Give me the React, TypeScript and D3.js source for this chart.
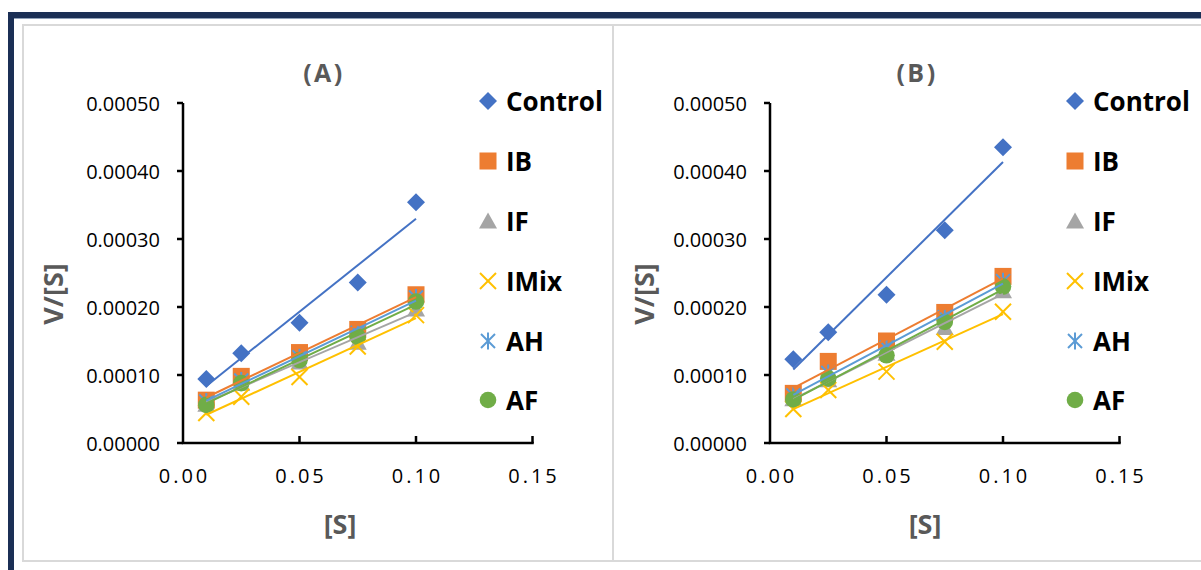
import React from "react";
import * as d3 from "d3";

const xValues = [0.01, 0.025, 0.05, 0.075, 0.1];
const seriesNames = ["Control", "IB", "IF", "IMix", "AH", "AF"];
const seriesColors = ["#4472C4", "#ED7D31", "#A5A5A5", "#FFC000", "#5B9BD5", "#70AD47"];
const seriesShapes = ["diamond", "square", "triangle", "x", "star", "circle"];

const panelA_Control = [0.000094, 0.000132, 0.000177, 0.000236, 0.000354];
const panelA_IB = [0.000063, 0.000098, 0.000133, 0.000167, 0.000218];
const panelA_IF = [0.000057, 0.000088, 0.000119, 0.000148, 0.000197];
const panelA_IMix = [0.000044, 0.000068, 0.000097, 0.000142, 0.000188];
const panelA_AH = [0.000061, 0.000092, 0.000126, 0.000162, 0.000214];
const panelA_AF = [0.000056, 0.000088, 0.000122, 0.000156, 0.000208];

const panelB_Control = [0.000123, 0.000163, 0.000218, 0.000313, 0.000435];
const panelB_IB = [0.000073, 0.00012, 0.00015, 0.000192, 0.000245];
const panelB_IF = [0.000065, 0.000093, 0.000132, 0.00017, 0.000224];
const panelB_IMix = [0.00005, 0.000078, 0.000105, 0.000149, 0.000193];
const panelB_AH = [0.00007, 0.000103, 0.00014, 0.000185, 0.000238];
const panelB_AF = [0.000064, 0.000095, 0.000129, 0.000178, 0.00023];

const xTicks = [0, 0.05, 0.1, 0.15];
const yTicks = [0, 0.0001, 0.0002, 0.0003, 0.0004, 0.0005];
const panelTitles = ["(A)", "(B)"];

const panels = [
  {
    title: panelTitles[0],
    data: [panelA_Control, panelA_IB, panelA_IF, panelA_IMix, panelA_AH, panelA_AF],
    x0: 183,
    titleX: 324,
    yLabelX: 52,
    xLabelX: 340,
    legendX: 488,
  },
  {
    title: panelTitles[1],
    data: [panelB_Control, panelB_IB, panelB_IF, panelB_IMix, panelB_AH, panelB_AF],
    x0: 770,
    titleX: 917,
    yLabelX: 643,
    xLabelX: 925,
    legendX: 1075,
  },
];

function Marker({ shape, color, x, y }: { shape: string; color: string; x: number; y: number }) {
  const s = 8.5;
  if (shape === "diamond") {
    return <path d={`M${x},${y - s - 0.5}L${x + s + 0.5},${y}L${x},${y + s + 0.5}L${x - s - 0.5},${y}Z`} fill={color} />;
  }
  if (shape === "square") {
    return <rect x={x - s} y={y - s} width={2 * s} height={2 * s} fill={color} />;
  }
  if (shape === "triangle") {
    return <path d={`M${x},${y - s}L${x + s + 0.5},${y + s - 1}L${x - s - 0.5},${y + s - 1}Z`} fill={color} />;
  }
  if (shape === "x") {
    const h = 8;
    return (
      <g stroke={color} strokeWidth={2}>
        <line x1={x - h} y1={y - h} x2={x + h} y2={y + h} />
        <line x1={x - h} y1={y + h} x2={x + h} y2={y - h} />
      </g>
    );
  }
  if (shape === "star") {
    const h = 7;
    return (
      <g stroke={color} strokeWidth={2}>
        <line x1={x - h} y1={y - h} x2={x + h} y2={y + h} />
        <line x1={x - h} y1={y + h} x2={x + h} y2={y - h} />
        <line x1={x} y1={y - h - 1.5} x2={x} y2={y + h + 1.5} />
      </g>
    );
  }
  return <circle cx={x} cy={y} r={8.3} fill={color} />;
}

function linreg(xs: number[], ys: number[]) {
  const mx = d3.mean(xs) as number;
  const my = d3.mean(ys) as number;
  let num = 0;
  let den = 0;
  xs.forEach((xv, i) => {
    num += (xv - mx) * (ys[i] - my);
    den += (xv - mx) * (xv - mx);
  });
  const b = num / den;
  return { a: my - b * mx, b };
}

const legendRows = [101, 161, 221, 281, 341, 400];
const fontFam = "'Open Sans', 'Noto Sans', sans-serif";

function Panel({ p }: { p: (typeof panels)[number] }) {
  const xs = d3.scaleLinear().domain([0, 0.15]).range([p.x0, p.x0 + 349.5]);
  const ys = d3.scaleLinear().domain([0, 0.0005]).range([443, 103]);
  const fmtY = d3.format(".5f");
  const fmtX = d3.format(".2f");
  return (
    <g>
      <text x={p.titleX} y={72} textAnchor="middle" dominantBaseline="central" fontFamily={fontFam} fontWeight="bold" fontSize={25} fill="#595959" letterSpacing={2.5}>
        {p.title}
      </text>
      {yTicks.map((t) => (
        <g key={"y" + t}>
          <line x1={p.x0 - 6} x2={p.x0} y1={ys(t)} y2={ys(t)} stroke="#000" strokeWidth={2.5} />
          <text x={p.x0 - 23} y={ys(t)} textAnchor="end" dominantBaseline="central" fontFamily={fontFam} fontSize={20} fill="#000">
            {fmtY(t)}
          </text>
        </g>
      ))}
      {xTicks.map((t) => (
        <g key={"x" + t}>
          {t > 0 && <line x1={xs(t)} x2={xs(t)} y1={443} y2={436} stroke="#000" strokeWidth={2.5} />}
          <text x={xs(t) + 1.5} y={475} textAnchor="middle" dominantBaseline="central" fontFamily={fontFam} fontSize={20} fill="#000" letterSpacing={3}>
            {fmtX(t)}
          </text>
        </g>
      ))}
      <line x1={p.x0} x2={p.x0} y1={ys(0.0005)} y2={443} stroke="#000" strokeWidth={2.5} />
      <line x1={p.x0 - 1.25} x2={xs(0.15) + 1.25} y1={443} y2={443} stroke="#000" strokeWidth={2.5} />
      <text transform={`translate(${p.yLabelX},294) rotate(-90)`} textAnchor="middle" dominantBaseline="central" fontFamily={fontFam} fontWeight="bold" fontSize={27} fill="#595959">
        V/[S]
      </text>
      <text x={p.xLabelX} y={523} textAnchor="middle" dominantBaseline="central" fontFamily={fontFam} fontWeight="bold" fontSize={27} fill="#595959">
        [S]
      </text>
      {p.data.map((vals, si) => (
        <g key={"m" + si}>
          {vals.map((v, i) => (
            <Marker key={i} shape={seriesShapes[si]} color={seriesColors[si]} x={xs(xValues[i])} y={ys(v)} />
          ))}
        </g>
      ))}
      {p.data.map((vals, si) => {
        const { a, b } = linreg(xValues, vals);
        const x1 = xValues[0];
        const x2 = xValues[xValues.length - 1];
        return (
          <line key={"t" + si} x1={xs(x1)} y1={ys(a + b * x1)} x2={xs(x2)} y2={ys(a + b * x2)} stroke={seriesColors[si]} strokeWidth={2} />
        );
      })}
      {seriesNames.map((n, si) => (
        <g key={"l" + n}>
          <Marker shape={seriesShapes[si]} color={seriesColors[si]} x={p.legendX} y={legendRows[si]} />
          <text x={p.legendX + 18} y={legendRows[si]} dominantBaseline="central" fontFamily={fontFam} fontWeight="bold" fontSize={26} fill="#000">
            {n}
          </text>
        </g>
      ))}
    </g>
  );
}

export default function App() {
  return (
    <svg width={1201} height={570} style={{ position: "absolute", left: 0, top: 0, background: "#fff" }}>
      <rect x={0} y={0} width={1201} height={570} fill="#fff" />
      <rect x={8} y={12} width={1193} height={6} fill="#1B2F55" />
      <rect x={8} y={12} width={6} height={558} fill="#1B2F55" />
      <line x1={14} x2={1201} y1={18.5} y2={18.5} stroke="#8fa0b8" strokeWidth={1} />
      <rect x={23} y={25} width={1190} height={536} fill="none" stroke="#d9d9d9" strokeWidth={2} />
      <line x1={613} x2={613} y1={25} y2={561} stroke="#d9d9d9" strokeWidth={2} />
      {panels.map((p) => (
        <Panel key={p.title} p={p} />
      ))}
    </svg>
  );
}
